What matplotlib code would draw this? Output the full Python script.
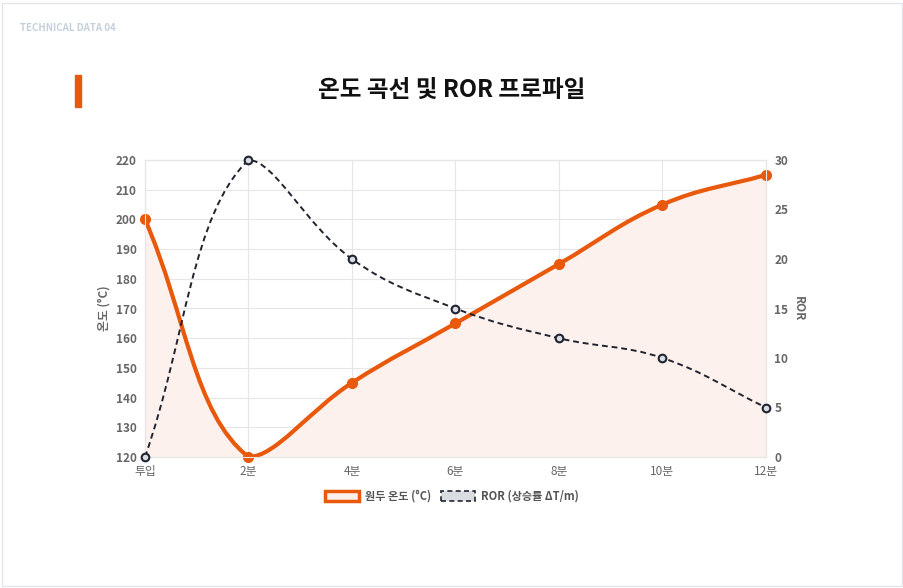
import matplotlib
matplotlib.use("Agg")
import matplotlib.pyplot as plt
import numpy as np
from matplotlib.path import Path
from matplotlib.patches import PathPatch, Rectangle

plt.rcParams['font.family'] = ['Noto Sans CJK KR', 'DejaVu Sans']

labels = ['투입', '2분', '4분', '6분', '8분', '10분', '12분']
temp = [200, 120, 145, 165, 185, 205, 215]
ror = [0, 30, 20, 15, 12, 10, 5]

W, H = 904, 588
fig = plt.figure(figsize=(W/100, H/100), dpi=100)
fig.patches.append(Rectangle((2/W, 2/H), 1-4/W, 1-5/H, transform=fig.transFigure,
                             fill=False, ec='#e3e6ea', lw=1))
ax = fig.add_axes([145/W, 1-457/H, 621/W, 297/H])
ax2 = ax.twinx()
x = np.arange(len(labels))
ax.set_xlim(0, 6); ax.set_ylim(120, 220)
ax2.set_ylim(0, 30)

def spline(axis, xs, ys, t=0.4):
    P = axis.transData.transform(np.column_stack([xs, ys]))
    n = len(P)
    cps = []
    for i in range(n):
        prev = P[max(i-1, 0)]; cur = P[i]; nxt = P[min(i+1, n-1)]
        d01 = np.hypot(*(cur-prev)); d12 = np.hypot(*(nxt-cur))
        tot = d01 + d12
        s01 = d01/tot if tot else 0; s12 = d12/tot if tot else 0
        cps.append((cur - t*s01*(nxt-prev), cur + t*s12*(nxt-prev)))
    bb = axis.bbox
    verts = [P[0]]; codes = [Path.MOVETO]
    for i in range(n-1):
        c1 = cps[i][1].copy(); c2 = cps[i+1][0].copy()
        for c in (c1, c2):
            c[1] = min(max(c[1], bb.y0), bb.y1)
        verts += [c1, c2, P[i+1]]; codes += [Path.CURVE4]*3
    verts = axis.transData.inverted().transform(np.array(verts))
    return verts, codes

tv, tc = spline(ax, x, temp)
fv = np.vstack([tv, [[6, 120], [0, 120], tv[0]]])
fc = tc + [Path.LINETO, Path.LINETO, Path.CLOSEPOLY]
ax.add_patch(PathPatch(Path(fv, fc), fc='#fdf1ee', ec='none', zorder=1))
ax.add_patch(PathPatch(Path(tv, tc), fc='none', ec='#e8590c', lw=3, zorder=3))
ax.plot(x, temp, 'o', color='#e8590c', ms=7, zorder=4, clip_on=False)

rv, rc = spline(ax2, x, ror)
ax2.add_patch(PathPatch(Path(rv, rc), fc='none', ec='#1f2430', lw=1.4, ls=(0, (3, 2)), zorder=3))
ax2.plot(x, ror, 'o', mfc='#d9dce1', mec='#1f2430', mew=1.5, ms=5.5, zorder=4, clip_on=False)

ax.set_xticks(x); ax.set_xticklabels(labels)
ax.set_yticks(range(120, 221, 10)); ax2.set_yticks(range(0, 31, 5))
ax.grid(True, color='#e6e6e6', lw=0.8); ax.set_axisbelow(True)
for a in (ax, ax2):
    for s in a.spines.values():
        s.set_color('#e6e6e6')
    a.tick_params(colors='#666666', labelsize=8.5, length=0, pad=6)
    for lab in a.get_yticklabels() + a.get_xticklabels():
        lab.set_fontweight('bold') if a is not ax or True else None
for lab in ax.get_xticklabels():
    lab.set_fontweight('normal')
ax.set_ylabel('온도 (°C)', fontsize=8.5, color='#666666', fontweight='bold', labelpad=4)
ax2.set_ylabel('ROR', fontsize=8.5, color='#666666', fontweight='bold', rotation=270, labelpad=12)

fig.text(20/W, 1-28/H, 'TECHNICAL DATA 04', fontsize=7, color='#c5d0dd', fontweight='bold', va='center')
fig.patches.append(Rectangle((75/W, 1-107/H), 6/W, 32/H, transform=fig.transFigure, color='#e8590c'))
fig.text(0.5, 1-90/H, '온도 곡선 및 ROR 프로파일', fontsize=17, fontweight='bold', color='#111111',
         ha='center', va='center')

# legend
fig.patches.append(Rectangle((325/W, 1-501/H), 34/W, 10/H, transform=fig.transFigure,
                             fc='#fdf1ee', ec='#e8590c', lw=2.5))
fig.text(365/W, 1-496/H, '원두 온도 (°C)', fontsize=8, fontweight='bold', color='#555555', va='center')
fig.patches.append(Rectangle((441/W, 1-501/H), 34/W, 10/H, transform=fig.transFigure,
                             fc='#d9dce1', ec='#1f2430', lw=1.2, ls=(0, (3, 2))))
fig.text(481/W, 1-496/H, 'ROR (상승률 ΔT/m)', fontsize=8, fontweight='bold', color='#555555', va='center')

fig.savefig('out.png', dpi=100, facecolor='white')
